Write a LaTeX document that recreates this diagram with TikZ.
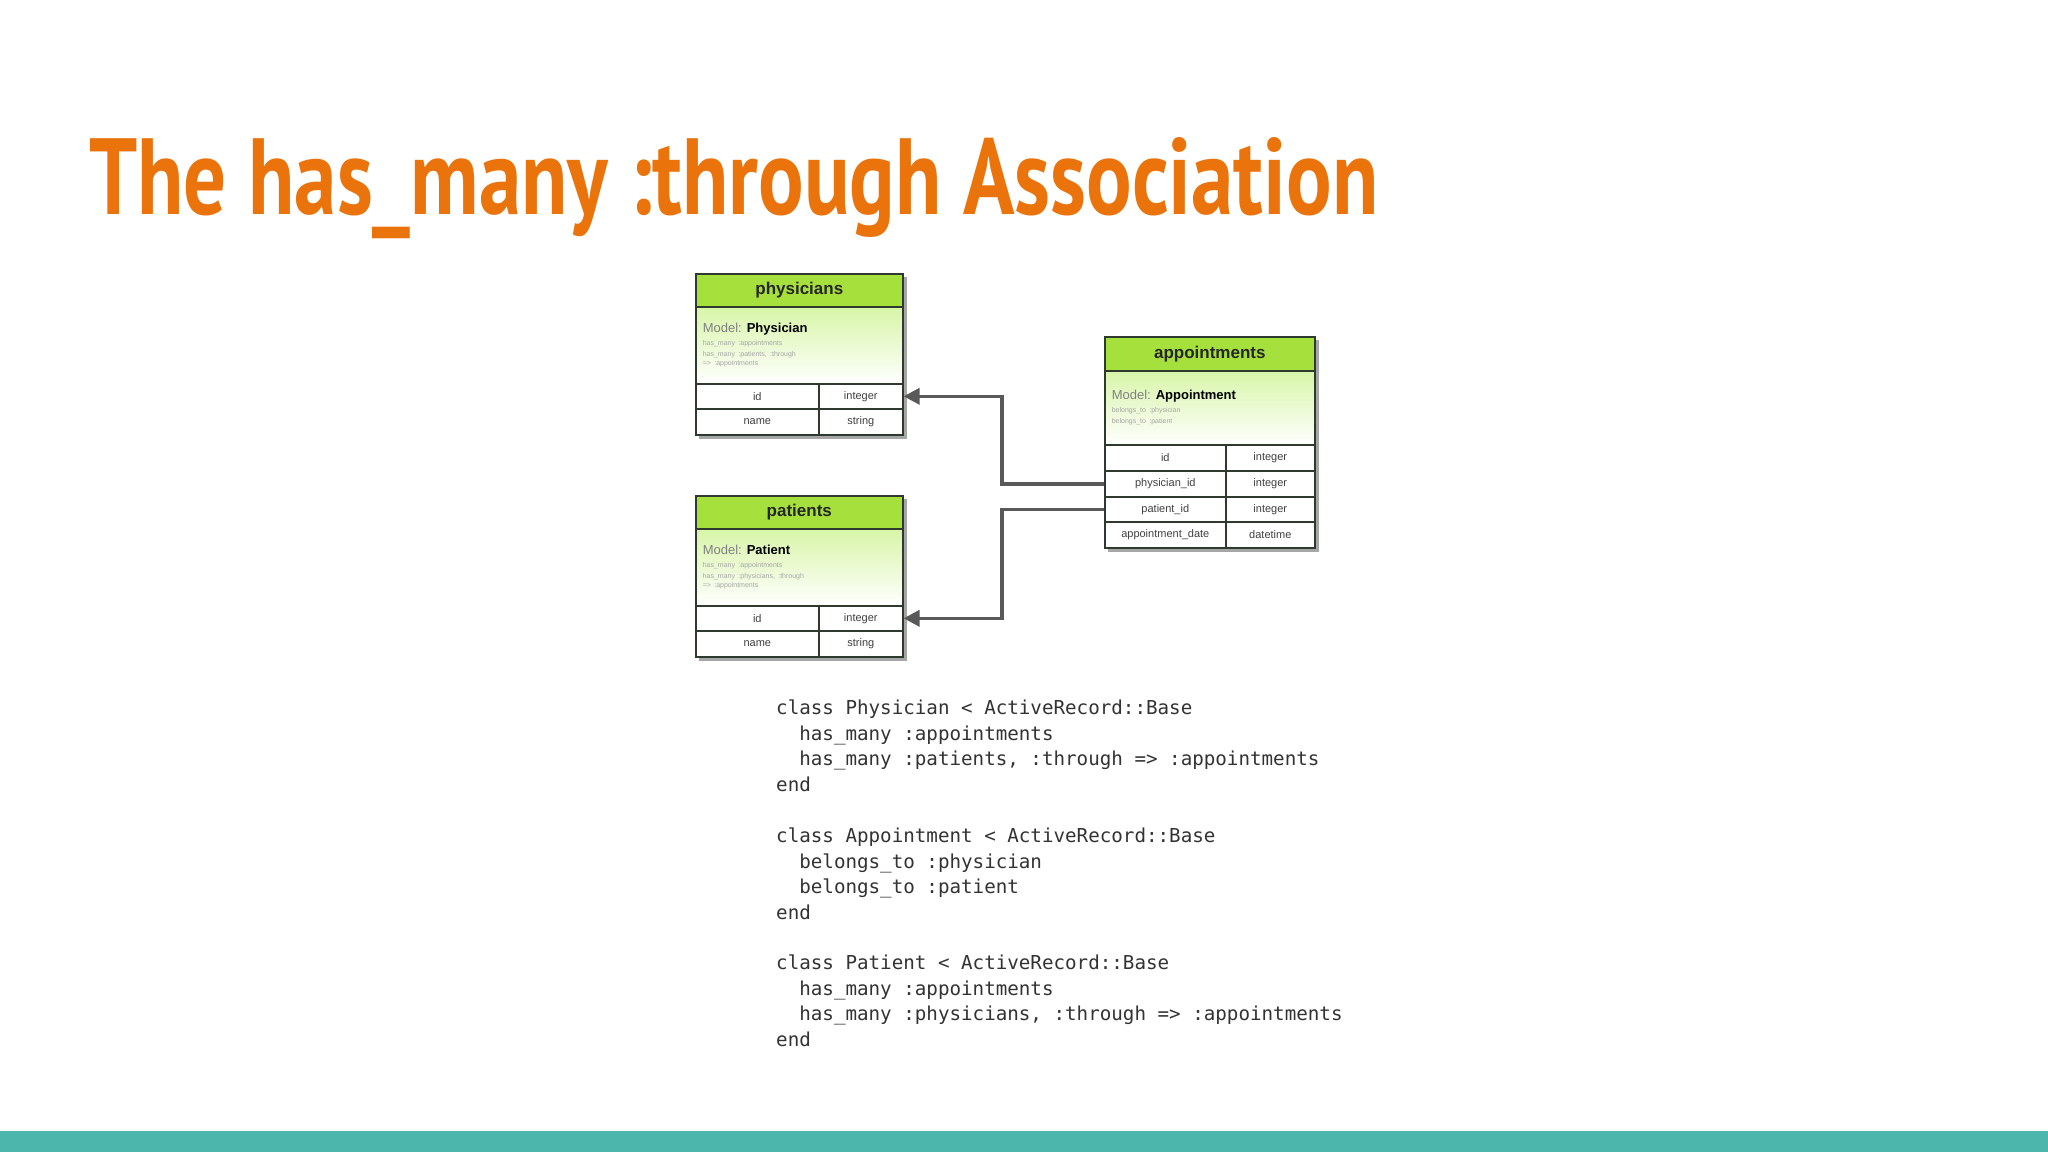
\documentclass[tikz,border=0pt]{standalone}
\usepackage{fontspec}
\setmainfont{Liberation Sans}
\setmonofont{DejaVu Sans Mono}
\newfontfamily\titlefont{PT Sans}
\usetikzlibrary{arrows.meta}
\definecolor{ttl}{HTML}{EA730B}
\definecolor{bar}{HTML}{4DB6AC}
\definecolor{hdr}{HTML}{A6E03C}
\definecolor{mdl}{HTML}{D8F5A8}
\definecolor{bord}{HTML}{2E3A2E}
\tikzset{x=1pt,y=-1pt,
 tbox/.style={draw=bord,line width=1.6pt,inner sep=0pt,anchor=north west},
 hdrbox/.style={tbox,fill=hdr,font=\bfseries\fontsize{17}{17}\selectfont,text=black!85},
 mdlbox/.style={tbox,top color=mdl,bottom color=white,align=left,text width=#1,inner xsep=7pt,anchor=north west},
 cell/.style={tbox,fill=white,font=\fontsize{11}{11}\selectfont,text=black!75,align=left,inner xsep=6pt,anchor=north west},
 shadowr/.style={fill=black!35},
 conn/.style={draw=black!65,line width=3.5pt,-{Triangle[length=16pt,width=16pt]}},
 code/.style={font=\ttfamily\fontsize{19.2}{19.2}\selectfont,text=black!80,anchor=base west,inner sep=0pt}}
\newcommand{\tinyt}[1]{{\fontsize{7}{8}\selectfont\color{black!35}#1}}
\begin{document}
\begin{tikzpicture}
\useasboundingbox (0,0) rectangle (2048,1152);
\fill[white] (0,0) rectangle (2048,1152);
\fill[bar] (0,1131) rectangle (2048,1152);
\node[anchor=base west,inner sep=0pt,text=ttl] (title) at (89,214)
  {\resizebox{1289pt}{77pt}{\titlefont\bfseries The has\_many :through Association}};
% shadows
\fill[shadowr] (699,277) rectangle (907,439);
\fill[shadowr] (699,499) rectangle (907,661);
\fill[shadowr] (1108,340) rectangle (1319,552);
% physicians
\node[mdlbox=193pt,minimum width=207pt,minimum height=77pt] (phm) at (695,306)
 {\fontsize{13}{14}\selectfont\color{black!50}Model: \textcolor{black}{\bfseries Physician}\\[-1pt]
  \tinyt{has\_many :appointments}\\[-3pt]\tinyt{has\_many :patients, :through}\\[-3pt]\tinyt{=> :appointments}};
\node[hdrbox,minimum width=207pt,minimum height=33pt] (ph) at (695,273) {physicians};
\node[cell,minimum width=123pt,minimum height=25pt] (phid) at (695,383) {id};
\node[cell,minimum width=84pt,minimum height=25pt] (phidt) at (818,383) {integer};
\node[cell,minimum width=123pt,minimum height=26pt] (phn) at (695,408) {name};
\node[cell,minimum width=84pt,minimum height=26pt] (phnt) at (818,408) {string};
% patients
\node[mdlbox=193pt,minimum width=207pt,minimum height=77pt] (pam) at (695,528)
 {\fontsize{13}{14}\selectfont\color{black!50}Model: \textcolor{black}{\bfseries Patient}\\[-1pt]
  \tinyt{has\_many :appointments}\\[-3pt]\tinyt{has\_many :physicians, :through}\\[-3pt]\tinyt{=> :appointments}};
\node[hdrbox,minimum width=207pt,minimum height=33pt] (pa) at (695,495) {patients};
\node[cell,minimum width=123pt,minimum height=25pt] (paid) at (695,605) {id};
\node[cell,minimum width=84pt,minimum height=25pt] (paidt) at (818,605) {integer};
\node[cell,minimum width=123pt,minimum height=26pt] (pan) at (695,630) {name};
\node[cell,minimum width=84pt,minimum height=26pt] (pant) at (818,630) {string};
% appointments
\node[mdlbox=196pt,minimum width=210pt,minimum height=74pt] (apm) at (1104,370)
 {\fontsize{13}{14}\selectfont\color{black!50}Model: \textcolor{black}{\bfseries Appointment}\\[-1pt]
  \tinyt{belongs\_to :physician}\\[-3pt]\tinyt{belongs\_to :patient}\\[8pt]};
\node[hdrbox,minimum width=210pt,minimum height=34pt] (ap) at (1104,336) {appointments};
\node[cell,minimum width=121pt,minimum height=26pt] (aid) at (1104,444) {id};
\node[cell,minimum width=89pt,minimum height=26pt] (aidt) at (1225,444) {integer};
\node[cell,minimum width=121pt,minimum height=26pt] (aph) at (1104,470) {physician\_id};
\node[cell,minimum width=89pt,minimum height=26pt] (apht) at (1225,470) {integer};
\node[cell,minimum width=121pt,minimum height=25pt] (apa) at (1104,496) {patient\_id};
\node[cell,minimum width=89pt,minimum height=25pt] (apat) at (1225,496) {integer};
\node[cell,minimum width=121pt,minimum height=26pt] (apd) at (1104,521) {appointment\_date};
\node[cell,minimum width=89pt,minimum height=26pt] (apdt) at (1225,521) {datetime};
% connectors
\coordinate (jx) at (1002,0);
\draw[conn] (aph.west) -- (aph.west -| jx) |- (phidt.east);
\draw[conn] (apa.west) -- (apa.west -| jx) |- (paidt.east);
% code
\node[code] (c1) at (776,714) {class Physician < ActiveRecord::Base};
\node[code] (c2) at (776,740) {\ \ has\_many :appointments};
\node[code] (c3) at (776,765) {\ \ has\_many :patients, :through => :appointments};
\node[code] (c4) at (776,791) {end};
\node[code] (c5) at (776,842) {class Appointment < ActiveRecord::Base};
\node[code] (c6) at (776,868) {\ \ belongs\_to :physician};
\node[code] (c7) at (776,893) {\ \ belongs\_to :patient};
\node[code] (c8) at (776,919) {end};
\node[code] (c9) at (776,969) {class Patient < ActiveRecord::Base};
\node[code] (c10) at (776,995) {\ \ has\_many :appointments};
\node[code] (c11) at (776,1020) {\ \ has\_many :physicians, :through => :appointments};
\node[code] (c12) at (776,1046) {end};
\end{tikzpicture}
\end{document}
